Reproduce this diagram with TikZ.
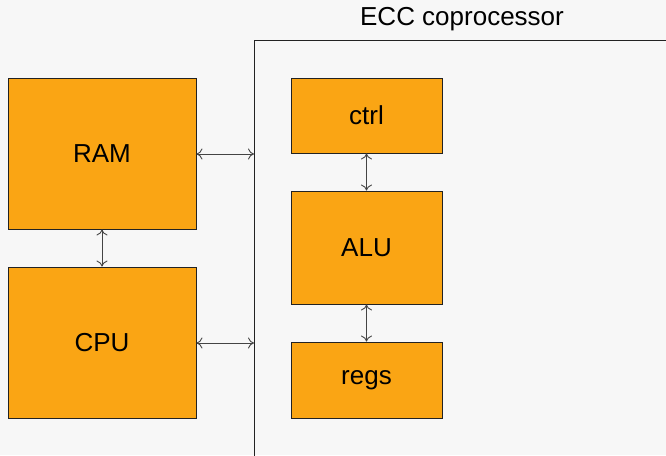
\documentclass[tikz,border=0pt]{standalone}
\usepackage{fontspec}
\setmainfont{Liberation Sans}
\usetikzlibrary{arrows.meta}
\definecolor{bgc}{HTML}{F7F7F7}
\definecolor{boxc}{HTML}{FAA514}
\definecolor{edgec}{HTML}{222222}
\definecolor{arrc}{HTML}{444444}
\tikzset{
  blk/.style={draw=edgec, fill=boxc, line width=0.9pt, inner sep=0pt, font=\fontsize{26}{30}\selectfont},
  link/.style={draw=arrc, line width=0.9pt, {Computer Modern Rightarrow[length=6pt,width=11pt]}-{Computer Modern Rightarrow[length=6pt,width=11pt]}},
}
\begin{document}
\begin{tikzpicture}[x=1pt,y=-1pt]
\useasboundingbox (0,0) rectangle (666,455);
\fill[bgc] (0,0) rectangle (666,455);
\clip (0,0) rectangle (666,455);
% frame
\draw[edgec, line width=1pt] (254,500) -- (254,40) -- (700,40);
\node[font=\fontsize{26}{30}\selectfont, text=black] (title) at (462,19) {ECC coprocessor};
% blocks
\node[blk, minimum width=188pt, minimum height=151pt] (ram) at (102,153.5) {RAM};
\node[blk, minimum width=188pt, minimum height=151pt] (cpu) at (102,342.5) {CPU};
\node[blk, minimum width=151pt, minimum height=75pt] (ctrl) at (366.5,115.5) {ctrl};
\node[blk, minimum width=151pt, minimum height=113pt] (alu) at (366.5,247.5) {ALU};
\node[blk, minimum width=151pt, minimum height=76pt] (regs) at (366.5,380) {regs};
% connector ends on the frame
\coordinate (e1) at (254,154);
\coordinate (e2) at (254,343);
% links
\draw[link] (ram.east |- e1) -- (e1);
\draw[link] (cpu.east |- e2) -- (e2);
\draw[link] (ram) -- (cpu);
\draw[link] (ctrl) -- (alu);
\draw[link] (alu) -- (regs);
\end{tikzpicture}
\end{document}
